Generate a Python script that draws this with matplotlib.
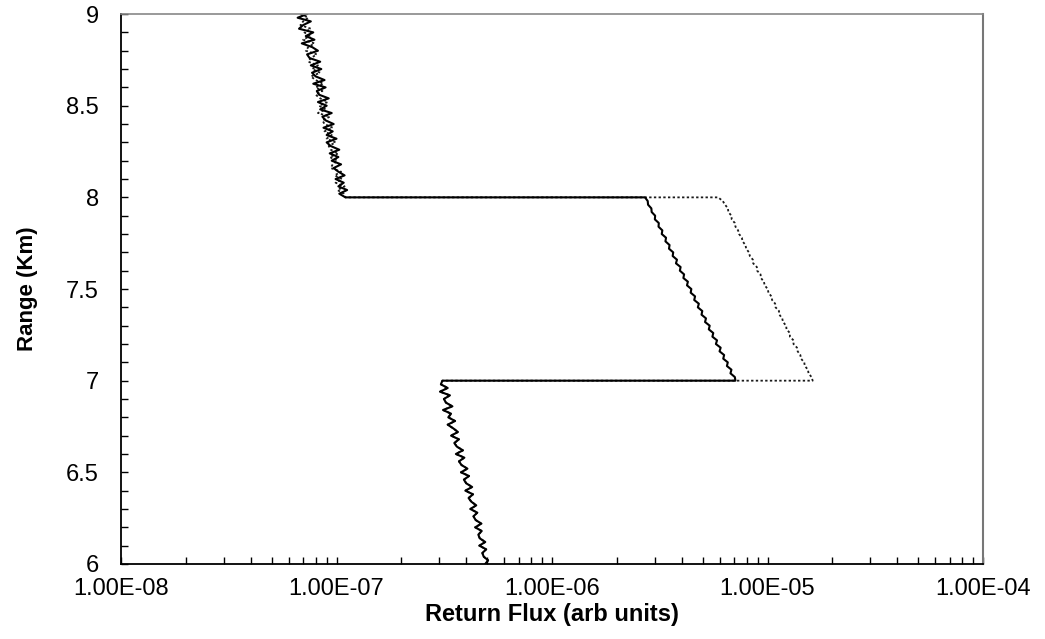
import numpy as np
import matplotlib
matplotlib.use("Agg")
import matplotlib.pyplot as plt
from matplotlib.ticker import LogLocator, MultipleLocator, FixedLocator

# Range gates (km), 20 m spacing, for each layer of the profile
range_above = np.round(np.arange(9.00, 7.995, -0.02), 2)   # 9.00 -> 8.00
range_cloud = np.round(np.arange(8.00, 6.995, -0.02), 2)   # 8.00 -> 7.00
range_below = np.round(np.arange(7.00, 5.995, -0.02), 2)   # 7.00 -> 6.00

# Return flux above the cloud (arb units)
flux_above_solid = [
    7.3e-8, 6.6e-8, 7.6e-8, 7.0e-8, 6.7e-8, 7.8e-8, 7.2e-8, 7.9e-8, 6.9e-8, 7.7e-8,
    8.2e-8, 7.3e-8, 7.5e-8, 8.4e-8, 7.6e-8, 8.5e-8, 7.7e-8, 8.0e-8, 8.8e-8, 7.8e-8,
    8.9e-8, 8.1e-8, 8.3e-8, 9.2e-8, 8.2e-8, 9.0e-8, 8.4e-8, 9.5e-8, 8.6e-8, 8.9e-8,
    9.7e-8, 8.7e-8, 9.6e-8, 9.0e-8, 10.0e-8, 9.0e-8, 9.4e-8, 10.3e-8, 9.3e-8, 10.2e-8,
    9.5e-8, 10.5e-8, 9.7e-8, 10.2e-8, 10.9e-8, 9.9e-8, 10.8e-8, 10.2e-8, 11.2e-8, 10.3e-8,
    11.0e-8,
]
flux_above_dotted = [
    6.8e-8, 7.4e-8, 7.0e-8, 6.8e-8, 7.6e-8, 7.1e-8, 7.5e-8, 7.0e-8, 7.9e-8, 7.4e-8,
    7.2e-8, 8.1e-8, 7.6e-8, 7.4e-8, 8.2e-8, 7.7e-8, 8.4e-8, 7.6e-8, 8.0e-8, 8.7e-8,
    8.0e-8, 8.6e-8, 8.0e-8, 8.4e-8, 9.1e-8, 8.3e-8, 8.9e-8, 8.2e-8, 9.3e-8, 8.6e-8,
    8.8e-8, 9.6e-8, 8.8e-8, 9.5e-8, 9.0e-8, 9.9e-8, 9.2e-8, 9.4e-8, 10.2e-8, 9.3e-8,
    10.1e-8, 9.6e-8, 9.4e-8, 10.5e-8, 9.8e-8, 10.6e-8, 9.9e-8, 10.9e-8, 10.1e-8, 10.8e-8,
    11.0e-8,
]

# Return flux inside the cloud layer
flux_cloud_solid = [
    2.70e-6, 2.78e-6, 2.79e-6, 2.89e-6, 2.90e-6, 3.01e-6, 3.00e-6, 3.13e-6, 3.12e-6, 3.25e-6,
    3.23e-6, 3.38e-6, 3.36e-6, 3.51e-6, 3.49e-6, 3.65e-6, 3.63e-6, 3.80e-6, 3.76e-6, 3.95e-6,
    3.92e-6, 4.10e-6, 4.07e-6, 4.27e-6, 4.23e-6, 4.43e-6, 4.40e-6, 4.61e-6, 4.57e-6, 4.80e-6,
    4.75e-6, 4.98e-6, 4.94e-6, 5.18e-6, 5.13e-6, 5.39e-6, 5.34e-6, 5.60e-6, 5.55e-6, 5.83e-6,
    5.76e-6, 6.06e-6, 5.99e-6, 6.29e-6, 6.23e-6, 6.54e-6, 6.48e-6, 6.80e-6, 6.73e-6, 7.05e-6,
    7.10e-6,
]
flux_cloud_dotted = [
    5.90e-6, 6.20e-6, 6.35e-6, 6.55e-6, 6.58e-6, 6.80e-6, 6.82e-6, 7.05e-6, 7.10e-6, 7.30e-6,
    7.38e-6, 7.60e-6, 7.66e-6, 7.90e-6, 7.96e-6, 8.20e-6, 8.28e-6, 8.55e-6, 8.58e-6, 8.92e-6,
    8.95e-6, 9.28e-6, 9.32e-6, 9.62e-6, 9.70e-6, 10.02e-6, 10.1e-6, 10.42e-6, 10.5e-6, 10.85e-6,
    10.9e-6, 11.3e-6, 11.35e-6, 11.7e-6, 11.8e-6, 12.2e-6, 12.25e-6, 12.7e-6, 12.7e-6, 13.2e-6,
    13.2e-6, 13.7e-6, 13.8e-6, 14.2e-6, 14.3e-6, 14.8e-6, 14.9e-6, 15.4e-6, 15.5e-6, 16.0e-6,
    16.2e-6,
]

# Return flux below the cloud (both profiles coincide here)
flux_below = [
    3.10e-7, 3.05e-7, 3.28e-7, 3.02e-7, 3.36e-7, 3.15e-7, 3.22e-7, 3.45e-7, 3.12e-7, 3.40e-7,
    3.30e-7, 3.55e-7, 3.28e-7, 3.48e-7, 3.66e-7, 3.40e-7, 3.70e-7, 3.52e-7, 3.62e-7, 3.86e-7,
    3.58e-7, 3.92e-7, 3.70e-7, 3.80e-7, 4.05e-7, 3.78e-7, 4.12e-7, 3.90e-7, 4.00e-7, 4.26e-7,
    3.96e-7, 4.30e-7, 4.10e-7, 4.22e-7, 4.45e-7, 4.18e-7, 4.50e-7, 4.32e-7, 4.42e-7, 4.70e-7,
    4.40e-7, 4.72e-7, 4.55e-7, 4.62e-7, 4.90e-7, 4.60e-7, 4.95e-7, 4.75e-7, 4.82e-7, 5.05e-7,
    4.90e-7,
]

x_ticks = [1e-8, 1e-7, 1e-6, 1e-5, 1e-4]
x_tick_labels = ["1.00E-08", "1.00E-07", "1.00E-06", "1.00E-05", "1.00E-04"]
y_ticks = [6, 6.5, 7, 7.5, 8, 8.5, 9]
y_tick_labels = ["6", "6.5", "7", "7.5", "8", "8.5", "9"]

plt.rcParams["font.family"] = ["Liberation Sans", "DejaVu Sans"]

fig = plt.figure(figsize=(10.45, 6.39), dpi=100)
ax = fig.add_axes([0.1158, 0.1174, 0.9407 - 0.1158, 0.978 - 0.1174])

range_full = np.concatenate([range_above, range_cloud, range_below])
solid = np.concatenate([flux_above_solid, flux_cloud_solid, flux_below])
dotted = np.concatenate([flux_above_dotted, flux_cloud_dotted, flux_below])

ax.plot(dotted, range_full, color="#1a1a1a", lw=1.3, linestyle=(0, (1.3, 1.3)))
ax.plot(solid, range_full, color="black", lw=1.5)

ax.set_xscale("log")
ax.set_xlim(1e-8, 1e-4)
ax.set_ylim(6, 9)

ax.xaxis.set_major_locator(FixedLocator(x_ticks))
ax.set_xticklabels(x_tick_labels)
ax.xaxis.set_minor_locator(LogLocator(base=10, subs=np.arange(2, 10)))
ax.xaxis.set_minor_formatter(plt.NullFormatter())
ax.yaxis.set_major_locator(FixedLocator(y_ticks))
ax.set_yticklabels(y_tick_labels)
ax.yaxis.set_minor_locator(MultipleLocator(0.1))

ax.tick_params(axis="both", which="both", direction="in", top=False, right=False,
               length=5, width=1.0, color="black", labelsize=17)
ax.tick_params(axis="y", pad=16)
ax.tick_params(axis="x", pad=10)

for side in ("left", "bottom"):
    ax.spines[side].set_color("black")
    ax.spines[side].set_linewidth(1.3)
ax.spines["top"].set_color("#888888")
ax.spines["top"].set_linestyle((0, (2, 1)))
ax.spines["top"].set_linewidth(1.2)
ax.spines["right"].set_color("#777777")
ax.spines["right"].set_linewidth(1.5)

ax.set_xlabel("Return Flux (arb units)", fontsize=17, fontweight="bold", labelpad=2)
ax.set_ylabel("Range (Km)", fontsize=16, fontweight="bold", labelpad=20)

fig.savefig("out.png", dpi=100, facecolor="white")
